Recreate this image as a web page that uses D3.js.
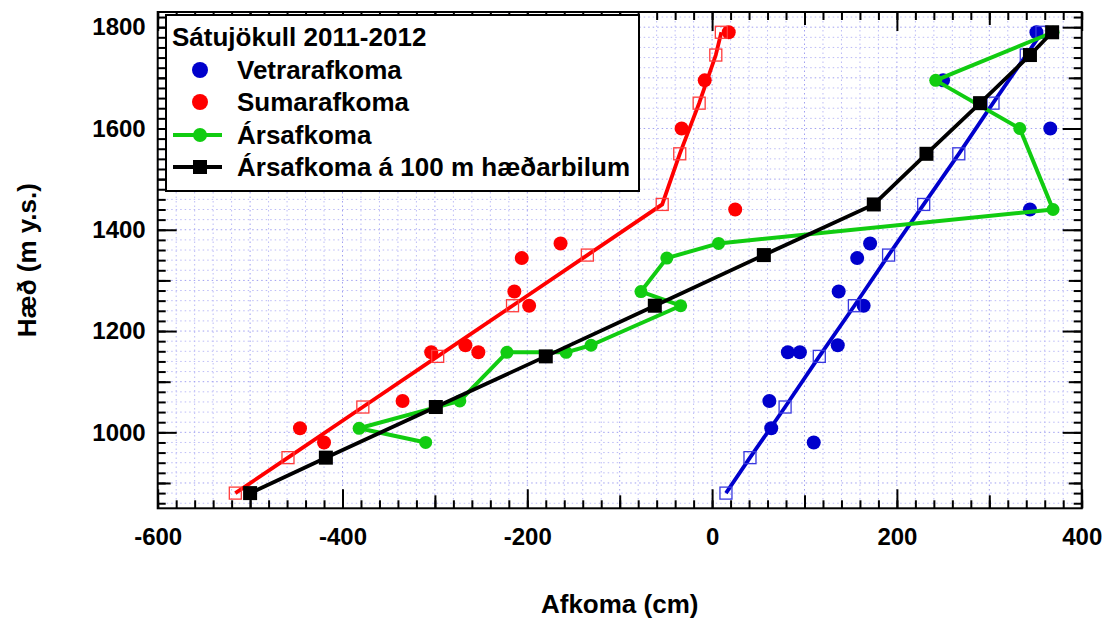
<!DOCTYPE html>
<html>
<head>
<meta charset="utf-8">
<script src="https://cdn.jsdelivr.net/npm/d3@7"></script>
<style>
  html, body { margin: 0; padding: 0; background: #fff; }
  svg { display: block; font-family: "Liberation Sans", Arial, sans-serif; font-weight: bold; }
</style>
</head>
<body>
<svg id="chart" width="1107" height="619"></svg>
<script>
// Mass balance of Sátujökull 2011-2012 by elevation (cm water equivalent)

// Stake measurements: elevation (m a.s.l.)
const stakeHeights = [1790, 1695, 1600, 1440, 1373, 1344, 1278, 1250, 1172, 1158, 1158, 1062, 1008, 980];
// Winter balance at each stake
const winterBalance = [351, 250, 366, 344, 171, 157, 137, 164, 136, 95, 82, 62, 64, 110];
// Summer balance at each stake
const summerBalance = [18, -8, -33, 25, -164, -206, -214, -198, -267, -253, -304, -335, -446, -420];
// Annual balance at each stake
const annualBalance = [369, 242, 333, 369, 7, -49, -77, -34, -131, -158, -222, -273, -382, -310];

// Elevation bands (100 m intervals) for the fitted balance profiles
const bandHeights = [880, 950, 1050, 1150, 1250, 1350, 1450, 1550, 1650, 1745, 1790];
const bandWinter = [15, 41, 79, 116, 154, 191, 229, 267, 304, 340, 357];
const bandSummer = [-516, -459, -378, -297, -216, -135, -54, -35, -14, 4, 10];
const bandAnnual = [-500, -418, -299, -180, -62, 56, 175, 232, 290, 344, 368];

// Axis ticks
const xTickLabels = [-600, -400, -200, 0, 200, 400];
const yTickLabels = [1000, 1200, 1400, 1600, 1800];

const legendTitle = "Sátujökull 2011-2012";
const legendLabels = ["Vetrarafkoma", "Sumarafkoma", "Ársafkoma", "Ársafkoma á 100 m hæðarbilum"];

const BLUE = "#0000cc", RED = "#ff0000", GREEN = "#11cc11", BLACK = "#000";

const svg = d3.select("#chart");
const plotL = 157.7, plotR = 1081.7, plotT = 12, plotB = 508.3;

const x = d3.scaleLinear().domain([-600, 400]).range([plotL, plotR]);
const y = d3.scaleLinear().domain([850, 1830]).range([plotB, plotT]);

// Dotted grid every 20 units
const gridX = d3.range(-580, 400, 20);
const gridY = d3.range(860, 1830, 20);
const grid = svg.append("g").attr("stroke", "#bcbcf6").attr("stroke-width", 1).attr("stroke-dasharray", "1.5,3");
grid.selectAll(".gx").data(gridX).join("line")
  .attr("x1", d => x(d)).attr("x2", d => x(d)).attr("y1", plotT).attr("y2", plotB)
  .attr("stroke", d => d % 100 === 0 ? "#a0a0f0" : null);
grid.selectAll(".gy").data(gridY).join("line")
  .attr("y1", d => y(d)).attr("y2", d => y(d)).attr("x1", plotL).attr("x2", plotR)
  .attr("stroke", d => d % 100 === 0 ? "#a0a0f0" : null);

// Ticks on all four sides pointing inward
const xMinor = d3.range(-600, 401, 20);
const xMid = d3.range(-500, 400, 200);
const yMinor = d3.range(860, 1830, 20);
const yMid = d3.range(900, 1830, 200);
const tickSets = [
  { xv: xMinor, yv: yMinor, len: 8 },
  { xv: xMid, yv: yMid, len: 13 },
  { xv: xTickLabels, yv: yTickLabels, len: 19 }
];
tickSets.forEach(t => {
  const gb = svg.append("g").attr("transform", `translate(0,${plotB})`)
    .call(d3.axisBottom(x).tickValues(t.xv).tickSize(-t.len).tickFormat(""));
  const gt = svg.append("g").attr("transform", `translate(0,${plotT})`)
    .call(d3.axisTop(x).tickValues(t.xv).tickSize(-t.len).tickFormat(""));
  const gl = svg.append("g").attr("transform", `translate(${plotL},0)`)
    .call(d3.axisLeft(y).tickValues(t.yv).tickSize(-t.len).tickFormat(""));
  const gr = svg.append("g").attr("transform", `translate(${plotR},0)`)
    .call(d3.axisRight(y).tickValues(t.yv).tickSize(-t.len).tickFormat(""));
  [gb, gt, gl, gr].forEach(g => {
    g.select(".domain").remove();
    g.selectAll("line").attr("stroke", BLACK).attr("stroke-width", 2);
  });
});

// Tick labels (plain hyphen for negatives)
const plain = d => String(d);
const xl = svg.append("g").attr("transform", `translate(0,${plotB})`)
  .call(d3.axisBottom(x).tickValues(xTickLabels).tickSize(0).tickPadding(20).tickFormat(plain));
xl.select(".domain").remove();
xl.selectAll("text").attr("font-size", 24).attr("font-weight", "bold").attr("fill", BLACK)
  .attr("font-family", "Liberation Sans, Arial, sans-serif");
const yl = svg.append("g").attr("transform", `translate(${plotL},0)`)
  .call(d3.axisLeft(y).tickValues(yTickLabels).tickSize(0).tickPadding(12).tickFormat(plain));
yl.select(".domain").remove();
yl.selectAll("text").attr("font-size", 24).attr("font-weight", "bold").attr("fill", BLACK)
  .attr("font-family", "Liberation Sans, Arial, sans-serif");

// Axis titles
svg.append("text").attr("x", (plotL + plotR) / 2).attr("y", 613).attr("text-anchor", "middle")
  .attr("font-size", 26).text("Afkoma (cm)");
svg.append("text").attr("transform", `translate(36,${(plotT + plotB) / 2}) rotate(-90)`)
  .attr("text-anchor", "middle").attr("font-size", 26).text("Hæð (m y.s.)");

// Plot frame
svg.append("rect").attr("x", plotL).attr("y", plotT).attr("width", plotR - plotL).attr("height", plotB - plotT)
  .attr("fill", "none").attr("stroke", BLACK).attr("stroke-width", 2);

const plot = svg.append("g");
const lineOf = (hs, vs) => d3.line().x((d, i) => x(vs[i])).y(d => y(d))(hs);

// Stake points: winter and summer
plot.selectAll(".wdot").data(stakeHeights).join("circle")
  .attr("cx", (d, i) => x(winterBalance[i])).attr("cy", d => y(d)).attr("r", 7).attr("fill", BLUE);
plot.selectAll(".sdot").data(stakeHeights).join("circle")
  .attr("cx", (d, i) => x(summerBalance[i])).attr("cy", d => y(d)).attr("r", 7).attr("fill", RED);

// Fitted summer and winter profiles with open squares
[[bandSummer, RED, "#ff3b3b"], [bandWinter, BLUE, "#3838e0"]].forEach(([vals, col, sq]) => {
  plot.append("path").attr("d", lineOf(bandHeights, vals)).attr("fill", "none")
    .attr("stroke", col).attr("stroke-width", 3.8);
  plot.selectAll(null).data(bandHeights).join("rect")
    .attr("x", (d, i) => x(vals[i]) - 6).attr("y", d => y(d) - 6).attr("width", 12).attr("height", 12)
    .attr("fill", "none").attr("stroke", sq).attr("stroke-width", 1.3);
});

// Annual balance at stakes
plot.append("path").attr("d", lineOf(stakeHeights, annualBalance)).attr("fill", "none")
  .attr("stroke", GREEN).attr("stroke-width", 4).attr("stroke-linejoin", "round");
plot.selectAll(".adot").data(stakeHeights).join("circle")
  .attr("cx", (d, i) => x(annualBalance[i])).attr("cy", d => y(d)).attr("r", 6.5).attr("fill", GREEN);

// Annual balance in 100 m bands
plot.append("path").attr("d", lineOf(bandHeights, bandAnnual)).attr("fill", "none")
  .attr("stroke", BLACK).attr("stroke-width", 3.8);
plot.selectAll(".bsq").data(bandHeights).join("rect")
  .attr("x", (d, i) => x(bandAnnual[i]) - 7).attr("y", d => y(d) - 7).attr("width", 14).attr("height", 14)
  .attr("fill", BLACK);

// Legend
const lg = svg.append("g");
lg.append("rect").attr("x", 166).attr("y", 15).attr("width", 473).attr("height", 176)
  .attr("fill", "#fff").attr("stroke", BLACK).attr("stroke-width", 2);
lg.append("text").attr("x", 172).attr("y", 46).attr("font-size", 26).text(legendTitle);
const rowY = [79, 111, 144, 176];
const symY = rowY.map(v => v - 9);
lg.append("circle").attr("cx", 200).attr("cy", symY[0]).attr("r", 8).attr("fill", BLUE);
lg.append("circle").attr("cx", 200).attr("cy", symY[1]).attr("r", 8).attr("fill", RED);
lg.append("line").attr("x1", 173).attr("x2", 222).attr("y1", symY[2]).attr("y2", symY[2])
  .attr("stroke", GREEN).attr("stroke-width", 4);
lg.append("circle").attr("cx", 200).attr("cy", symY[2]).attr("r", 7).attr("fill", GREEN);
lg.append("line").attr("x1", 173).attr("x2", 222).attr("y1", symY[3]).attr("y2", symY[3])
  .attr("stroke", BLACK).attr("stroke-width", 3.8);
lg.append("rect").attr("x", 193).attr("y", symY[3] - 7).attr("width", 14).attr("height", 14).attr("fill", BLACK);
lg.selectAll(".lt").data(legendLabels).join("text")
  .attr("x", 237).attr("y", (d, i) => rowY[i]).attr("font-size", 26).text(d => d);
</script>
</body>
</html>
